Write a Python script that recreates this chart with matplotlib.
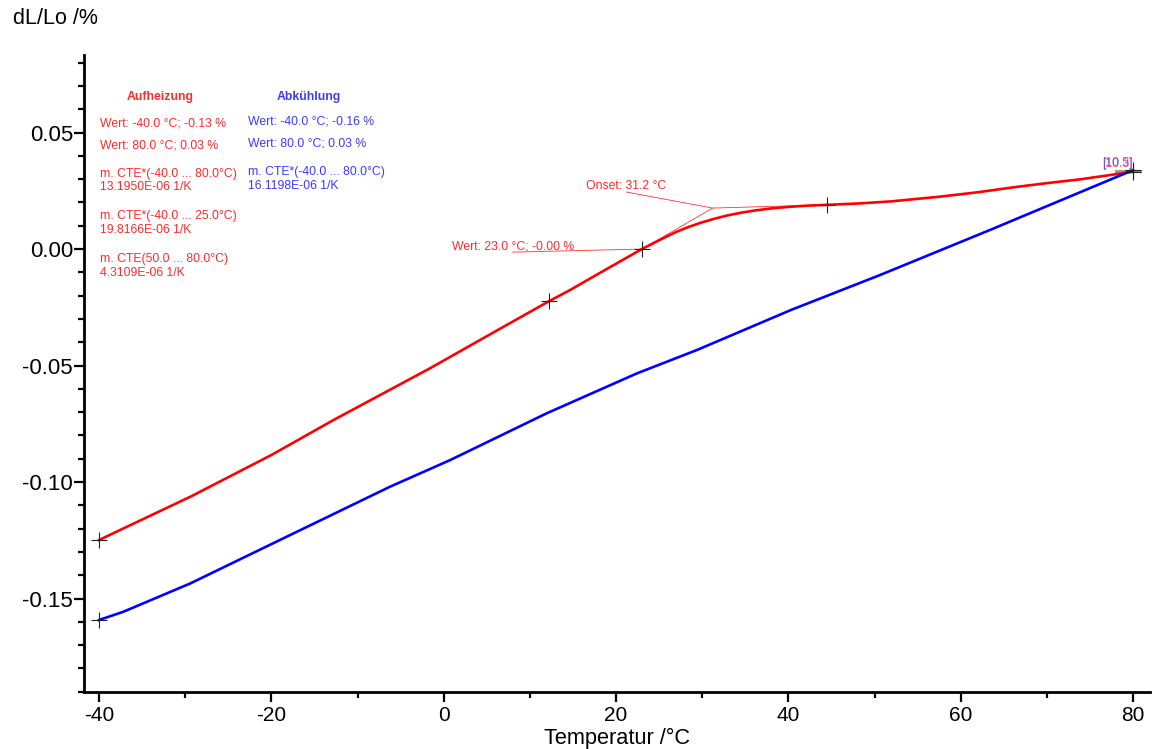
import numpy as np
import matplotlib
matplotlib.use('Agg')
import matplotlib.pyplot as plt
from matplotlib.ticker import MultipleLocator

plt.rcParams['font.family'] = ['Liberation Sans', 'DejaVu Sans']
plt.rcParams['axes.unicode_minus'] = False

# --- data ---
heat_T = [-40, -37, -29.4, -20, -12.8, -1.6, 5, 12.26, 14.66, 18, 23, 25.5, 27, 28.5, 30,
          31.5, 33, 34.5, 36, 37.9, 40, 42, 44.5, 48.3, 52, 57.6, 62, 66.1, 70, 73.8, 77, 80]
heat_dL = [-0.1249, -0.1196, -0.1063, -0.0884, -0.0734, -0.0512, -0.0374, -0.0223, -0.0176,
           -0.0105, 0.0, 0.0047, 0.0074, 0.0096, 0.0115, 0.0131, 0.0145, 0.0156, 0.0165,
           0.0174, 0.0181, 0.0186, 0.0190, 0.0196, 0.0205, 0.0225, 0.0244, 0.0265, 0.0283,
           0.0299, 0.0316, 0.0332]

cool_T = [-40, -37.2, -29.4, -17.8, -6.23, 0.73, 11.95, 22.4, 29.4, 40.4, 50.6, 63.4, 73.8, 80]
cool_dL = [-0.1592, -0.1557, -0.1435, -0.1227, -0.1020, -0.0906, -0.0705, -0.0534, -0.0433,
           -0.0260, -0.0112, 0.0082, 0.0243, 0.0339]

heat_marks_T = [-40, 12.26, 23, 44.5, 80]
heat_marks_dL = [-0.1249, -0.0223, 0.0, 0.0190, 0.0332]
cool_marks_T = [-40, 80]
cool_marks_dL = [-0.1592, 0.0339]

onset_T, onset_dL = 31.2, 0.0176

RED = '#ff0000'
BLUE = '#0000ff'
TXT_RED = '#ff2a2a'
TXT_BLUE = '#3a3aff'
W, H = 1153, 749

fig = plt.figure(figsize=(W / 100, H / 100), dpi=100)
ax = fig.add_axes([84 / W, 1 - 692 / H, (1150 - 84) / W, (692 - 55) / H])

ax.plot(heat_T, heat_dL, color=RED, lw=1.9, zorder=3)
ax.plot(cool_T, cool_dL, color=BLUE, lw=1.9, zorder=3)

# tangents for onset evaluation and leader lines
ax.plot([23.3, onset_T, 44.5], [0.0006, onset_dL, 0.0190], color=RED, lw=0.6, alpha=0.8, zorder=2)
ax.plot([21.2, onset_T], [0.0245, onset_dL], color=RED, lw=0.6, alpha=0.8, zorder=2)
ax.plot([8.0, 23], [-0.0013, 0.0], color=RED, lw=0.6, alpha=0.8, zorder=2)
ax.plot([78.0, 80.8], [0.0335, 0.0335], color='#999999', lw=2.2, zorder=2)

ax.plot(heat_marks_T, heat_marks_dL, ls='none', marker='+', ms=11, mew=0.8, color='#222222', zorder=4)
ax.plot(cool_marks_T, cool_marks_dL, ls='none', marker='+', ms=11, mew=0.8, color='#222222', zorder=4)

ax.set_xlim(-41.74, 81.97)
ax.set_ylim(-0.1901, 0.0833)
ax.xaxis.set_major_locator(MultipleLocator(20))
ax.xaxis.set_minor_locator(MultipleLocator(10))
ax.yaxis.set_major_locator(MultipleLocator(0.05))
ax.yaxis.set_minor_locator(MultipleLocator(0.01))
ax.yaxis.set_major_formatter(plt.FuncFormatter(lambda v, p: f'{v:.2f}'))
ax.tick_params(which='major', length=7, width=1.6, direction='out')
ax.tick_params(which='minor', length=4, width=1.6, direction='out')
ax.tick_params(axis='y', labelsize=16, pad=1)
ax.tick_params(axis='x', labelsize=15, pad=3)
for s in ['top', 'right']:
    ax.spines[s].set_visible(False)
for s in ['left', 'bottom']:
    ax.spines[s].set_linewidth(2)
ax.set_xlabel('Temperatur /°C', fontsize=15.7, labelpad=2)


def ptext(px, py, s, **kw):
    fig.text(px / W, 1 - py / H, s, va='center', ha='left', **kw)


ptext(13, 18, 'dL/Lo /%', fontsize=15.5, color='black')

ptext(127, 97, 'Aufheizung', fontsize=8.8, color=TXT_RED, fontweight='bold')
ptext(277, 97, 'Abkühlung', fontsize=8.8, color=TXT_BLUE, fontweight='bold')

red_lines = [
    (123, 'Wert: -40.0 °C; -0.13 %'),
    (146, 'Wert: 80.0 °C; 0.03 %'),
    (174, 'm. CTE*(-40.0 ... 80.0°C)'),
    (187, '13.1950E-06 1/K'),
    (216, 'm. CTE*(-40.0 ... 25.0°C)'),
    (230, '19.8166E-06 1/K'),
    (259, 'm. CTE(50.0 ... 80.0°C)'),
    (273, '4.3109E-06 1/K'),
]
for py, s in red_lines:
    ptext(100, py, s, fontsize=8.8, color=TXT_RED)

blue_lines = [
    (121, 'Wert: -40.0 °C; -0.16 %'),
    (144, 'Wert: 80.0 °C; 0.03 %'),
    (172, 'm. CTE*(-40.0 ... 80.0°C)'),
    (186, '16.1198E-06 1/K'),
]
for py, s in blue_lines:
    ptext(248, py, s, fontsize=8.8, color=TXT_BLUE)

ptext(586, 186, 'Onset: 31.2 °C', fontsize=8.8, color=TXT_RED)
ptext(452, 247, 'Wert: 23.0 °C; -0.00 %', fontsize=8.8, color=TXT_RED)
ptext(1102, 164, '[10.3]', fontsize=8.8, color=TXT_RED, alpha=0.8)
ptext(1102, 163, '[10.5]', fontsize=8.8, color=TXT_BLUE, alpha=0.7)

fig.savefig('out.png', dpi=100)
